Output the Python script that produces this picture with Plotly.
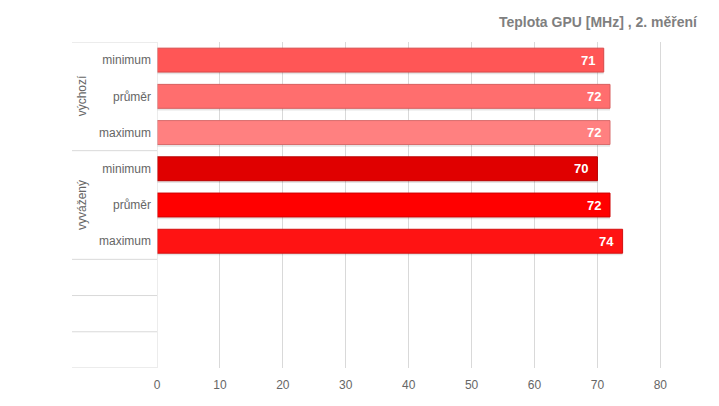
import plotly.graph_objects as go

title = "Teplota GPU [MHz] , 2. měření"
groups = ["výchozí", "vyvážený"]
rows = ["minimum", "průměr", "maximum", "minimum", "průměr", "maximum", "", "", ""]
row_group = [0, 0, 0, 1, 1, 1, None, None, None]
values = [71, 72, 72, 70, 72, 74]
colors = ["#FF5656", "#FF6E6E", "#FF8080", "#E00000", "#FF0000", "#FF1313"]
borders = ["#D84848", "#D85C5C", "#D86C6C", "#B80000", "#D00000", "#D41010"]
x_ticks = [0, 10, 20, 30, 40, 50, 60, 70, 80]

ypos = list(range(len(values)))

fig = go.Figure()
# soft shadow under the bars
fig.add_trace(go.Bar(
    x=values, y=ypos, orientation="h", width=0.66,
    marker=dict(color="rgba(0,0,0,0.10)", line=dict(width=0)),
    offset=-0.33 + 0.06, hoverinfo="skip",
))
fig.add_trace(go.Bar(
    x=values, y=ypos, orientation="h",
    marker=dict(color=colors, line=dict(color=borders, width=1)),
    width=0.66, offset=-0.33,
    hoverinfo="skip",
))

for v, y in zip(values, ypos):
    fig.add_annotation(x=v, y=y, xref="x", yref="y", text=str(v),
                       showarrow=False, xanchor="right", yanchor="middle",
                       xshift=-7, font=dict(family="Liberation Sans, Arial",
                                            size=13, color="white", weight="bold"))

grid = "#D9D9D9"
fig.update_layout(
    width=719, height=406,
    margin=dict(l=149, r=44, t=34, b=46),
    paper_bgcolor="white", plot_bgcolor="white",
    showlegend=False, barmode="overlay",
    font=dict(family="Liberation Sans, Arial", size=12, color="#666666"),
    xaxis=dict(range=[0, 83.6], tickvals=x_ticks, showgrid=True, gridcolor=grid,
               gridwidth=1, zeroline=False, showline=False, ticks="",
               ticklabelstandoff=8,
               tickfont=dict(size=12, color="#666666")),
    yaxis=dict(range=[len(rows) - 0.5, -0.5], tickvals=list(range(len(rows))),
               ticktext=rows, showgrid=False, zeroline=False, showline=False,
               ticks="", ticklabelstandoff=5,
               tickfont=dict(size=12, color="#666666")),
    title=dict(text=title, x=689 / 719, xanchor="right", y=1 - 14 / 406,
               yanchor="middle", font=dict(size=14, color="#7F7F7F", weight="bold")),
)

# vertical axis line at x=0
fig.add_shape(type="line", xref="x", yref="y", x0=0, x1=0,
              y0=-0.5, y1=len(rows) - 0.5, line=dict(color=grid, width=1))

# horizontal separators in the label area
left = -85 / 526
seps = [-0.5]
for i in range(1, len(rows) + 1):
    prev = row_group[i - 1]
    nxt = row_group[i] if i < len(rows) else "end"
    if prev is None or nxt != prev:
        seps.append(i - 0.5)
for s in seps:
    fig.add_shape(type="line", xref="paper", yref="y", x0=left, x1=0,
                  y0=s, y1=s, line=dict(color=grid, width=1))

# group labels
for g, name in enumerate(groups):
    idx = [i for i, rg in enumerate(row_group) if rg == g]
    center = sum(idx) / len(idx)
    fig.add_annotation(text=name, xref="paper", yref="y", x=-75 / 526, y=center,
                       textangle=-90, showarrow=False, xanchor="center",
                       yanchor="middle", font=dict(size=12, color="#666666"))

fig.write_html("out.html")
